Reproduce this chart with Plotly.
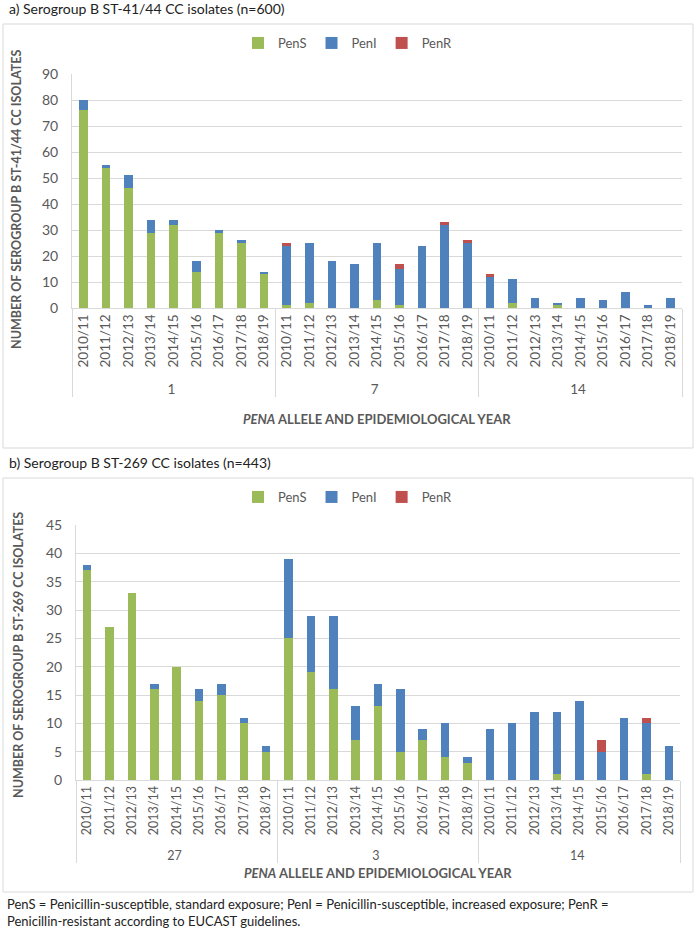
import plotly.graph_objects as go

W, H = 696, 931

years = ["2010/11", "2011/12", "2012/13", "2013/14", "2014/15",
         "2015/16", "2016/17", "2017/18", "2018/19"]

# Panel a: ST-41/44 CC, penA alleles 1, 7, 14
a_alleles = ["1", "7", "14"]
a_pens = [76, 54, 46, 29, 32, 14, 29, 25, 13,
          1, 2, 0, 0, 3, 1, 0, 0, 0,
          0, 2, 0, 1, 0, 0, 0, 0, 0]
a_peni = [4, 1, 5, 5, 2, 4, 1, 1, 1,
          23, 23, 18, 17, 22, 14, 24, 32, 25,
          12, 9, 4, 1, 4, 3, 6, 1, 4]
a_penr = [0, 0, 0, 0, 0, 0, 0, 0, 0,
          1, 0, 0, 0, 0, 2, 0, 1, 1,
          1, 0, 0, 0, 0, 0, 0, 0, 0]

# Panel b: ST-269 CC, penA alleles 27, 3, 14
b_alleles = ["27", "3", "14"]
b_pens = [37, 27, 33, 16, 20, 14, 15, 10, 5,
          25, 19, 16, 7, 13, 5, 7, 4, 3,
          0, 0, 0, 1, 0, 0, 0, 1, 0]
b_peni = [1, 0, 0, 1, 0, 2, 2, 1, 1,
          14, 10, 13, 6, 4, 11, 2, 6, 1,
          9, 10, 12, 11, 14, 5, 11, 9, 6]
b_penr = [0, 0, 0, 0, 0, 0, 0, 0, 0,
          0, 0, 0, 0, 0, 0, 0, 0, 0,
          0, 0, 0, 0, 0, 2, 0, 1, 0]

series_names = ["PenS", "PenI", "PenR"]
colors = ["#9BBB59", "#4F81BD", "#C0504D"]

FONT = "Lato"
GREY = "#595959"
GRID = "#D9D9D9"


def px_x(p):
    return p / W


def px_y(p):
    return 1 - p / H


def mc(alleles):
    g, y = [], []
    for a in alleles:
        for yr in years:
            g.append(a)
            y.append(yr)
    return [g, y]


fig = go.Figure()

for vals, name, col in zip([a_pens, a_peni, a_penr], series_names, colors):
    fig.add_trace(go.Bar(x=mc(a_alleles), y=vals, name=name, marker_color=col,
                         marker_line_width=0, xaxis="x", yaxis="y",
                         legend="legend"))
for vals, name, col in zip([b_pens, b_peni, b_penr], series_names, colors):
    fig.add_trace(go.Bar(x=mc(b_alleles), y=vals, name=name, marker_color=col,
                         marker_line_width=0, xaxis="x2", yaxis="y2",
                         legend="legend2"))


def xaxis_style(size, ticklen):
    return dict(type="multicategory", tickangle=-90,
                tickfont=dict(family=FONT, size=size, color=GREY),
                showline=True, linecolor=GRID, linewidth=1,
                showgrid=False, dividercolor=GRID, dividerwidth=1,
                ticks="outside", ticklen=ticklen, tickcolor="rgba(0,0,0,0)",
                automargin=False)


ycommon = dict(showgrid=True, gridcolor=GRID, gridwidth=1,
               showline=True, linecolor=GRID, linewidth=1,
               tickfont=dict(family=FONT, size=14, color=GREY),
               ticks="outside", ticklen=10, tickcolor="rgba(0,0,0,0)",
               zeroline=False, automargin=False)

legend_style = dict(orientation="h", x=0.5, xanchor="center",
                    yanchor="middle", traceorder="normal",
                    font=dict(family=FONT, size=13, color=GREY),
                    itemwidth=30, bgcolor="rgba(0,0,0,0)")

fig.update_layout(
    width=W, height=H,
    margin=dict(l=0, r=0, t=0, b=0),
    paper_bgcolor="white", plot_bgcolor="white",
    barmode="stack", bargap=0.62,
    font=dict(family=FONT, color=GREY),
    xaxis=dict(domain=[px_x(72), px_x(682)], anchor="y", **xaxis_style(13.5, 7)),
    yaxis=dict(domain=[px_y(308), px_y(74)], anchor="x", range=[0, 90],
               dtick=10, **ycommon),
    xaxis2=dict(domain=[px_x(76), px_x(680)], anchor="y2", **xaxis_style(12.5, 3)),
    yaxis2=dict(domain=[px_y(780), px_y(525)], anchor="x2", range=[0, 45],
                dtick=5, **ycommon),
    legend=dict(y=px_y(43), **legend_style),
    legend2=dict(y=px_y(497), **legend_style),
)

# outer boxes
for y0, y1 in [(24, 448), (478, 892)]:
    fig.add_shape(type="rect", xref="paper", yref="paper",
                  x0=px_x(3), x1=px_x(693), y0=px_y(y1), y1=px_y(y0),
                  line=dict(color=GRID, width=1), fillcolor="rgba(0,0,0,0)",
                  layer="below")

ann = []
ann.append(dict(text="a) Serogroup B ST-41/44 CC isolates (n=600)", x=px_x(7), y=px_y(9),
                xanchor="left", yanchor="middle", font=dict(family=FONT, size=14, color="#222")))
ann.append(dict(text="b) Serogroup B ST-269 CC isolates (n=443)", x=px_x(7), y=px_y(463),
                xanchor="left", yanchor="middle", font=dict(family=FONT, size=14, color="#222")))
ann.append(dict(text="<b>NUMBER OF SEROGROUP B ST-41/44 CC ISOLATES</b>", x=px_x(16), y=px_y(200),
                textangle=-90, xanchor="center", yanchor="middle",
                font=dict(family=FONT, size=12.5, color=GREY)))
ann.append(dict(text="<b>NUMBER OF SEROGROUP B ST-269 CC ISOLATES</b>", x=px_x(18), y=px_y(655),
                textangle=-90, xanchor="center", yanchor="middle",
                font=dict(family=FONT, size=12.5, color=GREY)))
ann.append(dict(text="<b><i>PENA</i> ALLELE AND EPIDEMIOLOGICAL YEAR</b>", x=px_x(377), y=px_y(419),
                xanchor="center", yanchor="middle", font=dict(family=FONT, size=13, color=GREY)))
ann.append(dict(text="<b><i>PENA</i> ALLELE AND EPIDEMIOLOGICAL YEAR</b>", x=px_x(378), y=px_y(873),
                xanchor="center", yanchor="middle", font=dict(family=FONT, size=13, color=GREY)))
ann.append(dict(text="PenS = Penicillin-susceptible, standard exposure; PenI = Penicillin-susceptible, increased exposure; PenR =<br>"
                     "Penicillin-resistant according to EUCAST guidelines.",
                x=px_x(5), y=px_y(912), xanchor="left", yanchor="middle", align="left",
                font=dict(family=FONT, size=13, color="#222")))
for a in ann:
    a.update(xref="paper", yref="paper", showarrow=False)
fig.update_layout(annotations=ann)

fig.write_html("out.html", config={"displayModeBar": False},
               post_script="document.body.style.margin='0';document.body.style.overflow='hidden';")
